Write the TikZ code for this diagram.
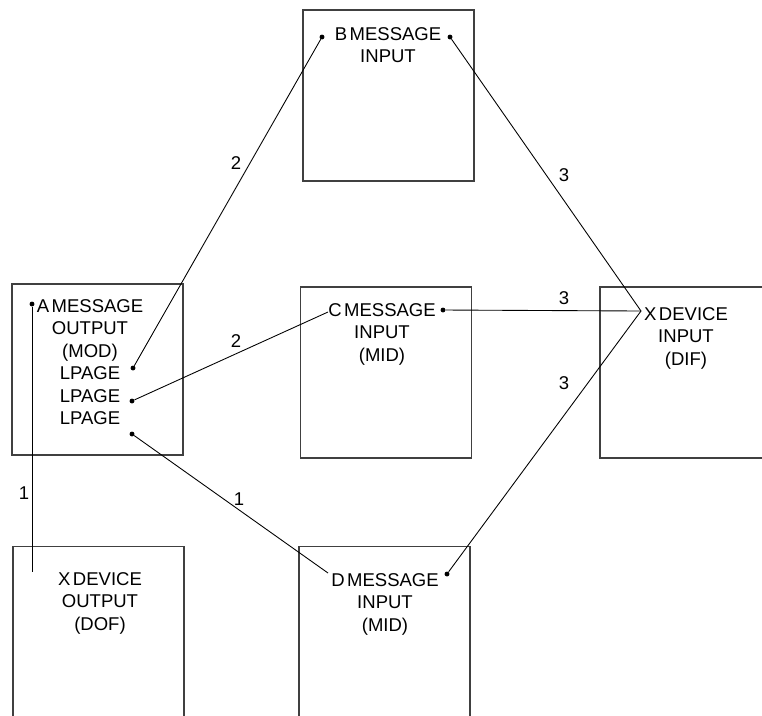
\documentclass[tikz,border=0pt]{standalone}
\usepackage{fontspec}
\setmainfont{Liberation Sans}[WordSpace=0.5]

\begin{document}
\begin{tikzpicture}[x=0.03cm, y=-0.03cm,
    unit/.style={rectangle, draw=black!75, line width=1pt, minimum width=5.13cm, minimum height=5.13cm},
    msg/.style={align=center, font=\fontsize{15.8}{19.2}\selectfont, inner sep=0pt},
    num/.style={font=\fontsize{15.8}{19.2}\selectfont, inner sep=0pt},
    term/.style={circle, fill=black, inner sep=0pt, minimum size=4.2pt},
    link/.style={line width=0.75pt}
]
\useasboundingbox (0, 0) rectangle (762, 715);
\clip (0, 0) rectangle (762, 715);

% Units
\node[unit] (boxB) at (388.5, 95.5) {};
\node[unit] (boxA) at (97.5, 369.5) {};
\node[unit] (boxC) at (386, 372.5) {};
\node[unit] (boxXin) at (685.5, 372.5) {};
\node[unit] (boxXout) at (98.5, 632) {};
\node[unit] (boxD) at (384.5, 632) {};

% Unit texts
\node[msg] (txtB) at (388, 45) {B MESSAGE \\ INPUT};
\node[msg] (txtA) at (90, 362) {A MESSAGE \\ OUTPUT \\ (MOD) \\ LPAGE \\ LPAGE \\ LPAGE};
\node[msg] (txtC) at (382, 334.4) {C MESSAGE \\ INPUT \\ (MID)};
\node[msg] (txtXin) at (686, 338.4) {X DEVICE \\ INPUT \\ (DIF)};
\node[msg] (txtXout) at (100, 603.4) {X DEVICE \\ OUTPUT \\ (DOF)};
\node[msg] (txtD) at (385, 604) {D MESSAGE \\ INPUT \\ (MID)};

% Terminals
\node[term] (aOut) at (32, 304) {};
\node[term] (aP1) at (133, 368) {};
\node[term] (aP2) at (132, 401) {};
\node[term] (aP3) at (132, 434) {};
\node[term] (bL) at (322, 37) {};
\node[term] (bR) at (450, 37) {};
\node[term] (cR) at (443, 310) {};
\node[term] (dR) at (447, 574) {};
\coordinate (cIn) at (328, 312);
\coordinate (dIn) at (328, 573);
\coordinate (xJ) at (641, 311);
\coordinate (xOut) at (32, 572);

% Links
\draw[link] (aOut) -- (xOut);
\draw[link] (aP1) -- (bL);
\draw[link] (bR) -- (xJ);
\draw[link] (aP2) -- (cIn);
\draw[link] (cR) -- (xJ);
\draw[link] (dR) -- (xJ);
\draw[link] (aP3) -- (dIn);

% Link numbers
\node[num] (n1) at (236, 163) {2};
\node[num] (n2) at (564, 175) {3};
\node[num] (n3) at (564, 298) {3};
\node[num] (n4) at (236, 341) {2};
\node[num] (n5) at (564, 383) {3};
\node[num] (n6) at (239, 499) {1};
\node[num] (n7) at (24, 493) {1};

\end{tikzpicture}
\end{document}
